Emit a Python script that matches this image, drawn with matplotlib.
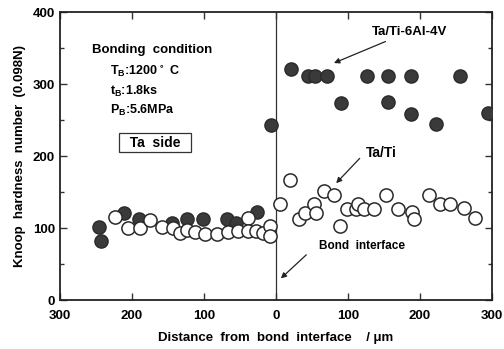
import matplotlib
matplotlib.use('Agg')
import matplotlib.pyplot as plt
from matplotlib.ticker import MultipleLocator, FuncFormatter

plt.rcParams['font.family'] = ['Liberation Sans', 'DejaVu Sans']
plt.rcParams['font.weight'] = 'bold'

# Ta/Ti-6Al-4V (filled). negative distance = Ta side
alloy_x = [-246, -243, -211, -190, -144, -123, -101, -68, -55, -26, -7,
           21, 44, 54, 71, 90, 127, 156, 156, 187, 188, 223, 256, 294]
alloy_y = [102, 83, 122, 113, 108, 113, 113, 113, 107, 123, 243,
           321, 312, 312, 312, 274, 312, 312, 275, 312, 259, 245, 312, 260]

# Ta/Ti (open)
ti_x = [-224, -205, -189, -175, -158, -143, -133, -123, -112, -98, -82, -66,
        -53, -39, -39, -28, -18, -8, -8,
        6, 19, 32, 41, 53, 56, 67, 81, 89, 99, 111, 114, 122, 136, 153, 169,
        189, 192, 213, 228, 242, 261, 276]
ti_y = [116, 101, 100, 112, 102, 100, 93, 98, 95, 92, 92, 95,
        96, 114, 96, 96, 93, 104, 90,
        134, 167, 113, 122, 134, 122, 152, 146, 104, 127, 127, 134, 127, 127, 146, 127,
        123, 113, 146, 134, 134, 128, 114]

fig = plt.figure(figsize=(5.04, 3.49), dpi=100)
ax = fig.add_axes([0.119, 0.139, 0.857, 0.826])

ax.plot(alloy_x, alloy_y, 'o', ms=9.5, mfc='#3a3a3a', mec='#2a2a2a', mew=1.0, zorder=3)
ax.plot(ti_x, ti_y, 'o', ms=9.5, mfc='white', mec='#2a2a2a', mew=1.1, zorder=4)

ax.axvline(0, color='#333333', lw=0.9, zorder=2)

ax.set_xlim(-300, 300)
ax.set_ylim(0, 400)
ax.xaxis.set_major_locator(MultipleLocator(100))
ax.yaxis.set_major_locator(MultipleLocator(100))
ax.yaxis.set_minor_locator(MultipleLocator(50))
ax.xaxis.set_major_formatter(FuncFormatter(lambda v, p: f"{abs(int(v))}"))
ax.tick_params(which='both', direction='in', top=True, right=True, labelsize=9.5,
               width=1.0, color='#333333')
ax.tick_params(which='major', length=5)
ax.tick_params(which='minor', length=3)
ax.tick_params(axis='x', pad=7)
for lab in ax.get_xticklabels() + ax.get_yticklabels():
    lab.set_fontweight('bold')
for s in ax.spines.values():
    s.set_linewidth(1.3)
    s.set_color('#222222')

ax.set_xlabel("Distance  from  bond  interface    / \u03bcm", fontsize=9.5,
              fontweight='bold', labelpad=7)
ax.set_ylabel("Knoop  hardness  number  (0.098N)", fontsize=9.5, fontweight='bold',
              labelpad=5)

# condition block
ax.text(-256, 348, "Bonding  condition", fontsize=9.5, fontweight='bold', va='center')
ax.text(-231, 318, r"T$_\mathregular{B}$:1200$^\circ$ C", fontsize=9, fontweight='bold', va='center')
ax.text(-231, 290, r"t$_\mathregular{B}$:1.8ks", fontsize=9, fontweight='bold', va='center')
ax.text(-231, 263, r"P$_\mathregular{B}$:5.6MPa", fontsize=9, fontweight='bold', va='center')
ax.text(-168, 219, "  Ta  side  ", fontsize=10, fontweight='bold', ha='center', va='center',
        bbox=dict(boxstyle='square,pad=0.2', fc='white', ec='#333333', lw=0.9))

arw = dict(arrowstyle='-|>', color='#222222', lw=0.9, mutation_scale=8)
ax.annotate("Ta/Ti-6Al-4V", xy=(77, 328), xytext=(185, 373), fontsize=9.5,
            fontweight='bold', ha='center', va='center', arrowprops=arw)
ax.annotate("", xy=(81, 160), xytext=(119, 200), arrowprops=arw)
ax.text(147, 205, "Ta/Ti", fontsize=10, fontweight='bold', ha='center', va='center')
ax.annotate("", xy=(4, 28), xytext=(45, 66), arrowprops=arw)
ax.text(120, 76, "Bond  interface", fontsize=8.5, fontweight='bold', ha='center', va='center')

fig.savefig("out.png", dpi=100)
